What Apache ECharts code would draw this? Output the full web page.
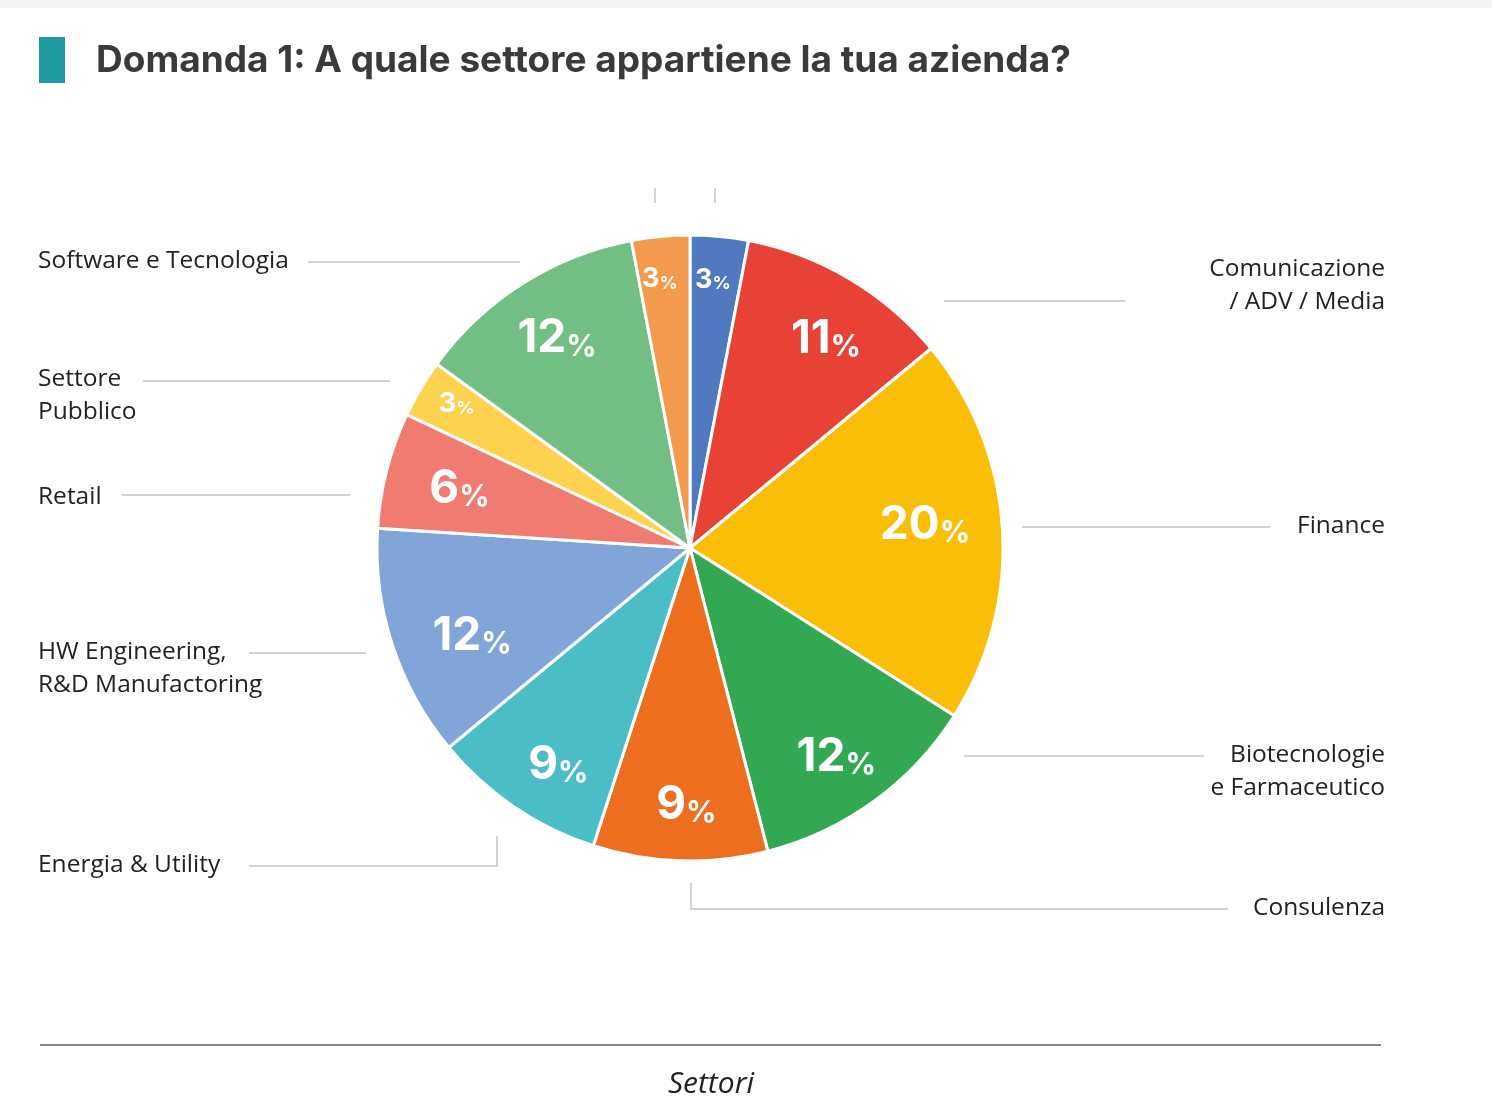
<!DOCTYPE html>
<html>
<head>
<meta charset="utf-8">
<script src="https://cdn.jsdelivr.net/npm/echarts@6/dist/echarts.min.js"></script>
<style>
  html, body { margin: 0; background: #fff; }
  #main { width: 1492px; height: 1114px; }
</style>
</head>
<body>
<div id="main"></div>
<script>
// slices clockwise from 12 o'clock
const sectors = ['', 'Comunicazione\n/ ADV / Media', 'Finance', 'Biotecnologie\ne Farmaceutico', 'Consulenza',
    'Energia & Utility', 'HW Engineering,\nR&D Manufactoring', 'Retail', 'Settore\nPubblico', 'Software e Tecnologia', ''];
const shares = [3, 11, 20, 12, 9, 9, 12, 6, 3, 12, 3];
const colors = ['#5079BF', '#E84236', '#F9BE07', '#32A852', '#EE6E1F', '#4ABDC6',
    '#81A5D8', '#F07C71', '#FDD24F', '#72BE85', '#F39A4F'];

const cx = 690, cy = 548, R = 313;

// where each outer label and its leader line go
const anchors = [
    { side: 'right', y: 182, line: [[715, 188], [715, 203], [715, 203]] },
    { side: 'right', y: 286, line: [[1125, 301], [944, 301], [944, 301]] },
    { side: 'right', y: 526, line: [[1270, 527], [1022, 527], [1022, 527]] },
    { side: 'right', y: 772, line: [[1204, 756], [964, 756], [964, 756]] },
    { side: 'right', y: 908, line: [[1228, 909], [691, 909], [691, 883]] },
    { side: 'left', y: 865, line: [[249, 866], [497, 866], [497, 836]] },
    { side: 'left', y: 669, line: [[249, 653], [366, 653], [366, 653]] },
    { side: 'left', y: 497, line: [[122, 495], [350, 495], [350, 495]] },
    { side: 'left', y: 396, line: [[143, 381], [390, 381], [390, 381]] },
    { side: 'left', y: 261, line: [[308, 262], [520, 262], [520, 262]] },
    { side: 'left', y: 182, line: [[655, 188], [655, 203], [655, 203]] }
];

// percentage labels: distance from centre and angle shift from the slice middle (deg)
const pctRadius = [269, 249, 236, 255, 257, 254, 235, 238, 274, 248, 270];
const pctShift = [-0.5, 2.5, -2, 1, -1, -3, -4, 0, 1, 0, -1];

const total = shares.reduce((a, b) => a + b, 0);
const midAngles = [];
shares.reduce((acc, v) => {
    midAngles.push((acc + v / 2) / total * 360);
    return acc + v;
}, 0);

const chart = echarts.init(document.getElementById('main'));

const pieData = shares.map((v, i) => ({
    name: sectors[i] || ('s' + i),
    value: v,
    itemStyle: { color: colors[i] },
    label: { formatter: sectors[i] || '\u00a0' }
}));

const ringData = shares.map((v, i) => ({ name: 'r' + i, value: v }));

chart.setOption({
    animation: false,
    title: {
        text: 'Domanda 1: A quale settore appartiene la tua azienda?',
        left: 91,
        top: 37,
        textStyle: { fontFamily: 'Inter', fontWeight: 'bold', fontSize: 37, color: '#3a3a3a' }
    },
    graphic: [
        { type: 'rect', shape: { x: 0, y: 0, width: 1492, height: 8 }, style: { fill: '#f3f3f3' } },
        { type: 'rect', shape: { x: 39, y: 37, width: 26, height: 46 }, style: { fill: '#1E9AA0' } },
        { type: 'line', shape: { x1: 40, y1: 1045, x2: 1381, y2: 1045 }, style: { stroke: '#888', lineWidth: 2 } },
        {
            type: 'text', x: 711, y: 1084,
            style: {
                text: 'Settori', align: 'center', verticalAlign: 'middle',
                font: 'italic 30px "Open Sans"', fill: '#222'
            }
        }
    ],
    series: [
        {
            type: 'pie',
            center: [cx, cy],
            radius: [0, R],
            startAngle: 90,
            clockwise: true,
            avoidLabelOverlap: false,
            silent: true,
            itemStyle: { borderColor: '#fff', borderWidth: 3 },
            label: {
                show: true,
                position: 'outside',
                fontFamily: 'Open Sans',
                fontSize: 24.5,
                lineHeight: 33,
                color: '#222'
            },
            labelLine: { show: true, lineStyle: { color: '#c4c4c4', width: 1.5 } },
            labelLayout: function (p) {
                const a = anchors[p.dataIndex];
                return {
                    x: a.side === 'left' ? 38 : 1385,
                    y: a.y,
                    align: a.side,
                    verticalAlign: 'middle',
                    labelLinePoints: a.line
                };
            },
            data: pieData
        },
        {
            type: 'pie',
            center: [cx, cy],
            radius: [190, R],
            startAngle: 90,
            clockwise: true,
            silent: true,
            z: 5,
            itemStyle: { color: 'transparent' },
            label: {
                show: true,
                position: 'inside',
                formatter: p => p.value <= 3 ? `{ns|${p.value}}{ps|%}` : `{n|${p.value}}{p|%}`,
                rich: {
                    n: { fontFamily: 'Inter', fontWeight: 'bold', fontSize: 46, color: '#fff', verticalAlign: 'bottom', lineHeight: 50 },
                    p: { fontFamily: 'Inter', fontWeight: 'bold', fontSize: 30, color: '#fff', verticalAlign: 'bottom', lineHeight: 44 },
                    ns: { fontFamily: 'Inter', fontWeight: 'bold', fontSize: 27, color: '#fff', verticalAlign: 'bottom', lineHeight: 30 },
                    ps: { fontFamily: 'Inter', fontWeight: 'bold', fontSize: 18, color: '#fff', verticalAlign: 'bottom', lineHeight: 26 }
                }
            },
            labelLine: { show: false },
            labelLayout: function (p) {
                const i = p.dataIndex;
                const ang = (midAngles[i] + pctShift[i]) * Math.PI / 180;
                return {
                    x: cx + pctRadius[i] * Math.sin(ang),
                    y: cy - pctRadius[i] * Math.cos(ang) - 2,
                    align: 'center',
                    verticalAlign: 'middle'
                };
            },
            data: ringData
        }
    ]
});

window.addEventListener('resize', () => {
    chart.resize();
});
</script>
</body>
</html>
